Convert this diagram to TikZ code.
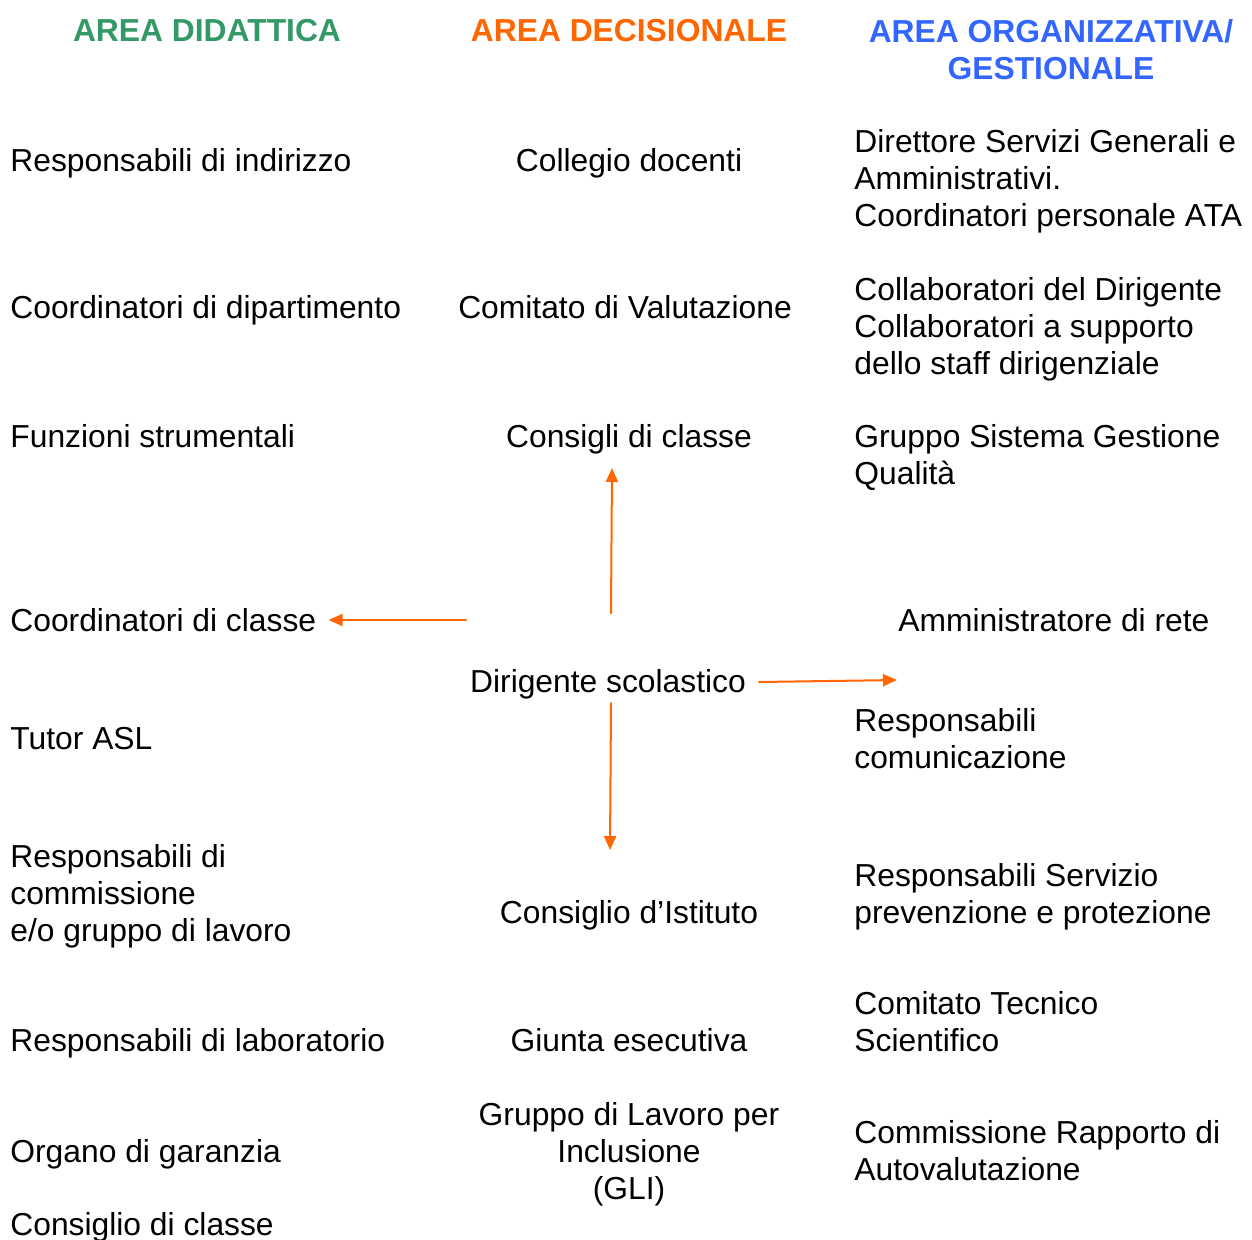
\documentclass[tikz,border=0pt]{standalone}
\usepackage{fontspec}
\setmainfont{Liberation Sans}
\usepackage{tikz}
\usetikzlibrary{arrows.meta}
\definecolor{zzttww}{rgb}{0.2,0.6,0.4}
\definecolor{ffwwqq}{rgb}{1,0.4,0}
\definecolor{zzwwff}{rgb}{0.2,0.4,1}
\tikzset{
  voce/.style={inner sep=0pt,align=left,text depth=0pt,font=\fontsize{15.9}{18.5}\selectfont},
  titolo/.style={inner sep=0pt,align=center,font=\fontsize{15.9}{18.5}\selectfont\bfseries},
  freccia/.style={color=ffwwqq,line width=1pt,-{Triangle[length=7pt,width=6pt]}}
}
\begin{document}
\begin{tikzpicture}[line cap=round,line join=round,x=0.5pt,y=-0.5pt]
      \useasboundingbox (0,0) rectangle (1252,1239);
      % titoli
      \draw[color=zzttww] (207,31) node[titolo] (tdid) {AREA DIDATTICA};
      \draw[color=ffwwqq] (629,31) node[titolo] (tdec) {AREA DECISIONALE};
      \draw[color=zzwwff] (1051,49.5) node[titolo] (torg) {AREA ORGANIZZATIVA/\\GESTIONALE};
      % area didattica
      \draw[color=black] (10,160) node[voce,anchor=west] (rind) {Responsabili di indirizzo};
      \draw[color=black] (10,307) node[voce,anchor=west] (cdip) {Coordinatori di dipartimento};
      \draw[color=black] (10,436) node[voce,anchor=west] (fstr) {Funzioni strumentali};
      \draw[color=black] (10,620) node[voce,anchor=west] (ccla) {Coordinatori di classe};
      \draw[color=black] (10,738) node[voce,anchor=west] (tasl) {Tutor ASL};
      \draw[color=black] (10,893) node[voce,anchor=west] (rcom) {Responsabili di\\commissione\\e/o gruppo di lavoro};
      \draw[color=black] (10,1040) node[voce,anchor=west] (rlab) {Responsabili di laboratorio};
      \draw[color=black] (10,1151) node[voce,anchor=west] (ogar) {Organo di garanzia};
      \draw[color=black] (10,1224) node[voce,anchor=west] (cdcl) {Consiglio di classe};
      % area decisionale
      \draw[color=black] (629,160) node[voce] (cdoc) {Collegio docenti};
      \draw[color=black] (625,307) node[voce] (cval) {Comitato di Valutazione};
      \draw[color=black] (629,436) node[voce] (cdic) {Consigli di classe};
      \draw[color=black] (608,681) node[voce] (dsco) {Dirigente scolastico};
      \draw[color=black] (629,912) node[voce] (cist) {Consiglio d’Istituto};
      \draw[color=black] (629,1040) node[voce] (gese) {Giunta esecutiva};
      \draw[color=black] (629,1151) node[voce,align=center] (glin) {Gruppo di Lavoro per\\Inclusione\\(GLI)};
      % area organizzativa
      \draw[color=black] (854,178) node[voce,anchor=west] (dsga) {Direttore Servizi Generali e\\Amministrativi.\\Coordinatori personale ATA};
      \draw[color=black] (854,326) node[voce,anchor=west] (cdir) {Collaboratori del Dirigente\\Collaboratori a supporto\\dello staff dirigenziale};
      \draw[color=black] (854,454.5) node[voce,anchor=west] (gsgq) {Gruppo Sistema Gestione\\Qualità};
      \draw[color=black] (898,620) node[voce,anchor=west] (arete) {Amministratore di rete};
      \draw[color=black] (854,738.5) node[voce,anchor=west] (rcomu) {Responsabili\\comunicazione};
      \draw[color=black] (854,893.5) node[voce,anchor=west] (rspp) {Responsabili Servizio\\prevenzione e protezione};
      \draw[color=black] (854,1021.5) node[voce,anchor=west] (ctsc) {Comitato Tecnico\\Scientifico};
      \draw[color=black] (854,1150.5) node[voce,anchor=west] (crav) {Commissione Rapporto di\\Autovalutazione};
      % frecce dal dirigente
      \coordinate (dsu) at (611,613);
      \coordinate (dsx) at (466,620);
      \coordinate (ddx) at (759,682);
      \coordinate (dgiu) at (611,703);
      \coordinate (psu) at (612,468);
      \coordinate (pdx) at (897,680);
      \coordinate (pgiu) at (610,850);
      \draw[freccia] (dsu) -- (psu);
      \draw[freccia] (dsx) -- ([xshift=6pt]ccla.east |- dsx);
      \draw[freccia] (ddx) -- (pdx);
      \draw[freccia] (dgiu) -- (pgiu);
\end{tikzpicture}
\end{document}
